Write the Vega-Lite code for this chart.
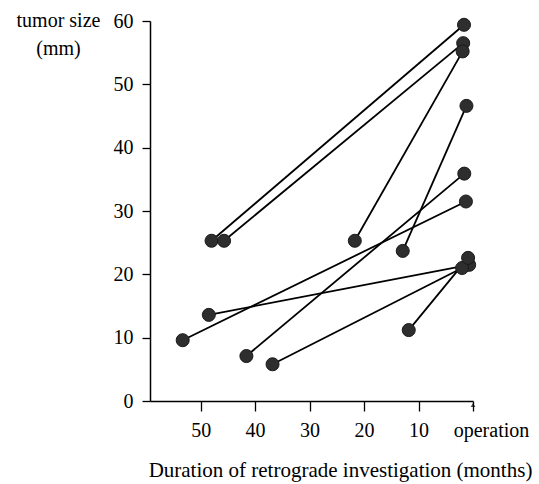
{
  "$schema": "https://vega.github.io/schema/vega-lite/v6.json",
  "width": 323,
  "height": 380,
  "autosize": "none",
  "padding": {"left": 150, "top": 21, "right": 66, "bottom": 83},
  "background": "white",
  "config": {
    "view": {"stroke": null},
    "font": "Liberation Serif",
    "axis": {"grid": false, "domainColor": "black", "tickColor": "black", "labelColor": "black", "titleColor": "black", "domainWidth": 1.5, "tickWidth": 1.3, "labelFont": "Liberation Serif", "titleFont": "Liberation Serif", "labelFontSize": 20, "titleFontSize": 20, "titleFontWeight": "normal", "labelOverlap": false, "labelBound": false, "labelFlush": false}
  },
  "datasets": {
    "pts": [
      {"id": 1, "month": 48.0, "size": 25.3},
      {"id": 1, "month": 1.65, "size": 59.4},
      {"id": 2, "month": 45.7, "size": 25.3},
      {"id": 2, "month": 1.8, "size": 56.5},
      {"id": 3, "month": 21.7, "size": 25.3},
      {"id": 3, "month": 1.9, "size": 55.2},
      {"id": 4, "month": 12.9, "size": 23.7},
      {"id": 4, "month": 1.2, "size": 46.6},
      {"id": 5, "month": 48.5, "size": 13.6},
      {"id": 5, "month": 0.7, "size": 21.5},
      {"id": 6, "month": 53.3, "size": 9.6},
      {"id": 6, "month": 1.3, "size": 31.5},
      {"id": 7, "month": 41.6, "size": 7.1},
      {"id": 7, "month": 1.6, "size": 35.9},
      {"id": 8, "month": 36.8, "size": 5.8},
      {"id": 8, "month": 2.0, "size": 21.0},
      {"id": 9, "month": 11.8, "size": 11.2},
      {"id": 9, "month": 0.9, "size": 22.6}
    ],
    "arrow": [{"month": 0, "size": 0}]
  },
  "layer": [
    {
      "data": {"name": "pts"},
      "mark": {"type": "line", "color": "black", "strokeWidth": 1.8},
      "encoding": {
        "x": {"field": "month", "type": "quantitative", "scale": {"domain": [59.3, 0], "nice": false, "zero": false},
          "axis": {"values": [50, 40, 30, 20, 10, 0], "tickSize": 10, "labelPadding": 9,
            "labelExpr": "datum.value == 0 ? 'operation' : datum.label",
            "labelOffset": {"condition": {"test": "datum.value == 0", "value": 18}, "value": 0},
            "title": "Duration of retrograde investigation (months)", "titleFontSize": 21, "titleX": 190, "titleY": 69, "titleBaseline": "middle", "titleAnchor": null, "titleAlign": "center"}},
        "y": {"field": "size", "type": "quantitative", "scale": {"domain": [0, 60], "nice": false},
          "axis": {"values": [0, 10, 20, 30, 40, 50, 60], "tickSize": 8, "labelPadding": 9,
            "title": ["tumor size", "(mm)"], "titleAngle": 0, "titleAlign": "center", "titleBaseline": "middle", "titleX": -92, "titleY": -1, "titleLineHeight": 28, "titleAnchor": null}},
        "detail": {"field": "id"}
      }
    },
    {
      "data": {"name": "pts"},
      "mark": {"type": "point", "filled": true, "color": "#2e2e2e", "opacity": 1, "size": 170, "stroke": "#1a1a1a", "strokeWidth": 1},
      "encoding": {
        "x": {"field": "month", "type": "quantitative"},
        "y": {"field": "size", "type": "quantitative"}
      }
    },
    {
      "data": {"name": "arrow"},
      "mark": {"type": "point", "shape": "triangle-up", "filled": true, "color": "black", "size": 22, "yOffset": 4},
      "encoding": {
        "x": {"field": "month", "type": "quantitative"},
        "y": {"field": "size", "type": "quantitative"}
      }
    }
  ]
}
